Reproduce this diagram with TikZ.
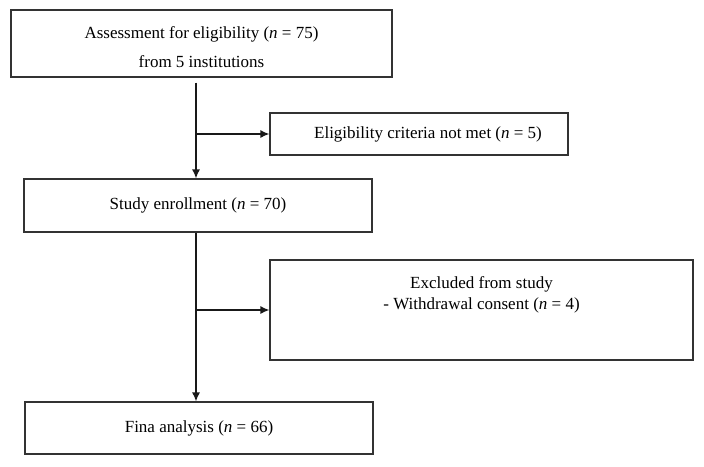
\documentclass[tikz,border=0pt]{standalone}
\usepackage{fontspec}
\setmainfont{Liberation Serif}
\usepackage{tikz}
\usetikzlibrary{arrows.meta}

\begin{document}
\begin{tikzpicture}[x=1pt,y=-1pt,
    box/.style={draw=black!80, line width=1.2pt, inner sep=0pt, align=center,
      font=\fontsize{17}{29}\selectfont},
    txt/.style={box, draw=none},
    flow/.style={black!90, line width=1.3pt, -{Latex[length=9pt,width=8pt]}}]
        \useasboundingbox (0,0) rectangle (704,466);
        % Boxes
        \node[box, minimum width=381pt, minimum height=67pt] (assess) at (201.5,43.5) {};
        \node[txt] (assesstxt) at ([yshift=-4pt]assess.center)
          {Assessment for eligibility (\textit{n} = 75)\\from 5 institutions};
        \node[box, minimum width=298pt, minimum height=42pt] (notmet) at (419,134)
          {\hspace{18pt}Eligibility criteria not met (\textit{n} = 5)};
        \node[box, minimum width=348pt, minimum height=53pt] (enroll) at (198,205.5)
          {Study enrollment (\textit{n} = 70)};
        \node[box, minimum width=423pt, minimum height=100pt] (excl) at (481.5,310) {};
        \node[txt, anchor=north, font=\fontsize{17}{21.5}\selectfont] (excltxt)
          at ([yshift=-16.5pt]excl.north)
          {Excluded from study\\- Withdrawal consent (\textit{n} = 4)};
        \node[box, minimum width=348pt, minimum height=52pt] (final) at (199,428)
          {Fina analysis (\textit{n} = 66)};
        % Arrows
        \coordinate (spine) at (196,0);
        \draw[flow] ([yshift=-5pt]assess.south -| spine) -- (enroll.north -| spine);
        \draw[flow] (spine |- notmet.west) -- (notmet.west);
        \draw[flow] (enroll.south -| spine) -- (final.north -| spine);
        \draw[flow] (spine |- excl.west) -- (excl.west);
      \end{tikzpicture}
\end{document}
